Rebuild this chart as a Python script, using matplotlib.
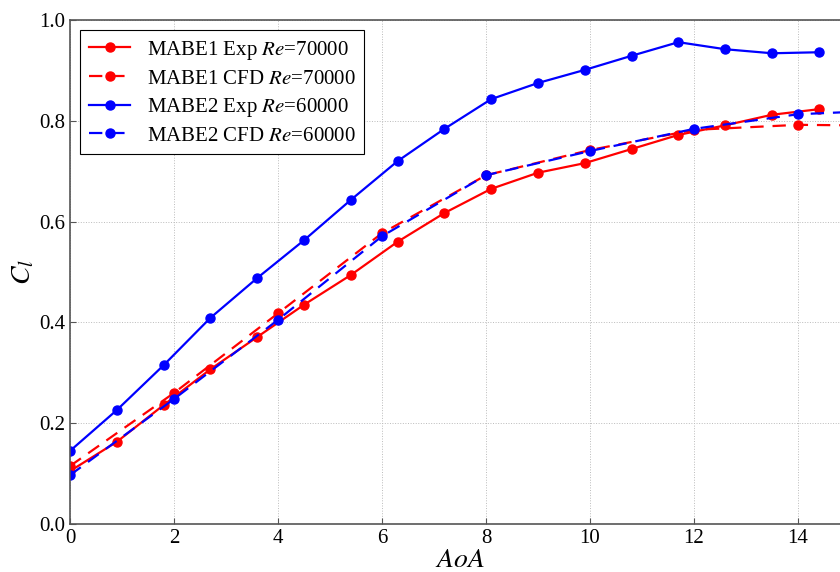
import matplotlib.pyplot as plt
import numpy as np

plt.rcParams['font.family'] = ['Liberation Serif', 'DejaVu Serif']
plt.rcParams['mathtext.fontset'] = 'stix'

# experimental data, every 0.9 deg
aoa_exp = [0, 0.9, 1.8, 2.7, 3.6, 4.5, 5.4, 6.3, 7.2, 8.1, 9.0, 9.9, 10.8, 11.7, 12.6, 13.5, 14.4]
mabe1_exp = [0.105, 0.163, 0.236, 0.307, 0.371, 0.435, 0.494, 0.560, 0.617, 0.665, 0.697, 0.716,
             0.744, 0.772, 0.791, 0.812, 0.823]
mabe2_exp = [0.145, 0.226, 0.315, 0.409, 0.488, 0.563, 0.643, 0.720, 0.784, 0.843, 0.875, 0.901,
             0.929, 0.956, 0.942, 0.934, 0.936]

# CFD data
aoa_cfd = [0, 2, 4, 6, 8, 10, 12, 14, 16]
mabe1_cfd = [0.115, 0.260, 0.418, 0.577, 0.692, 0.742, 0.782, 0.792, 0.790]
mabe2_cfd = [0.097, 0.248, 0.405, 0.571, 0.692, 0.740, 0.784, 0.813, 0.822]

fig = plt.figure(figsize=(8.4, 5.72), dpi=100)
ax = fig.add_axes([70/840, 48/572, 780/840, 504/572])

ax.plot(aoa_exp, mabe1_exp, '-', color='red', lw=1.6, marker='o', ms=6.5,
        label=r'MABE1 Exp $Re$=70000')
ax.plot(aoa_cfd, mabe1_cfd, '--', color='red', lw=1.6, marker='o', ms=6.5, dashes=(6, 4),
        label=r'MABE1 CFD $Re$=70000')
ax.plot(aoa_exp, mabe2_exp, '-', color='blue', lw=1.6, marker='o', ms=6.5,
        label=r'MABE2 Exp $Re$=60000')
ax.plot(aoa_cfd, mabe2_cfd, '--', color='blue', lw=1.6, marker='o', ms=6.5, dashes=(6, 4),
        label=r'MABE2 CFD $Re$=60000')

ax.set_xlim(0, 15)
ax.set_ylim(0, 1.0)
ax.set_xticks(np.arange(0, 15, 2))
ax.set_yticks(np.arange(0, 1.01, 0.2))
ax.tick_params(direction='in', labelsize=15, color='#555555', length=4)
ax.grid(True, ls=':', color='#bbbbbb', lw=0.7)
for s in ax.spines.values():
    s.set_color('#555555')
    s.set_linewidth(1.2)

ax.set_xlabel(r'$AoA$', fontsize=20, labelpad=0)
ax.set_ylabel(r'$C_l$', fontsize=20, labelpad=2)

leg = ax.legend(loc='upper left', fontsize=15, fancybox=False, edgecolor='black',
                framealpha=1, borderaxespad=0.5, handlelength=2.0, labelspacing=0.35)
leg.get_frame().set_linewidth(0.8)

fig.savefig('out.png', dpi=100)
